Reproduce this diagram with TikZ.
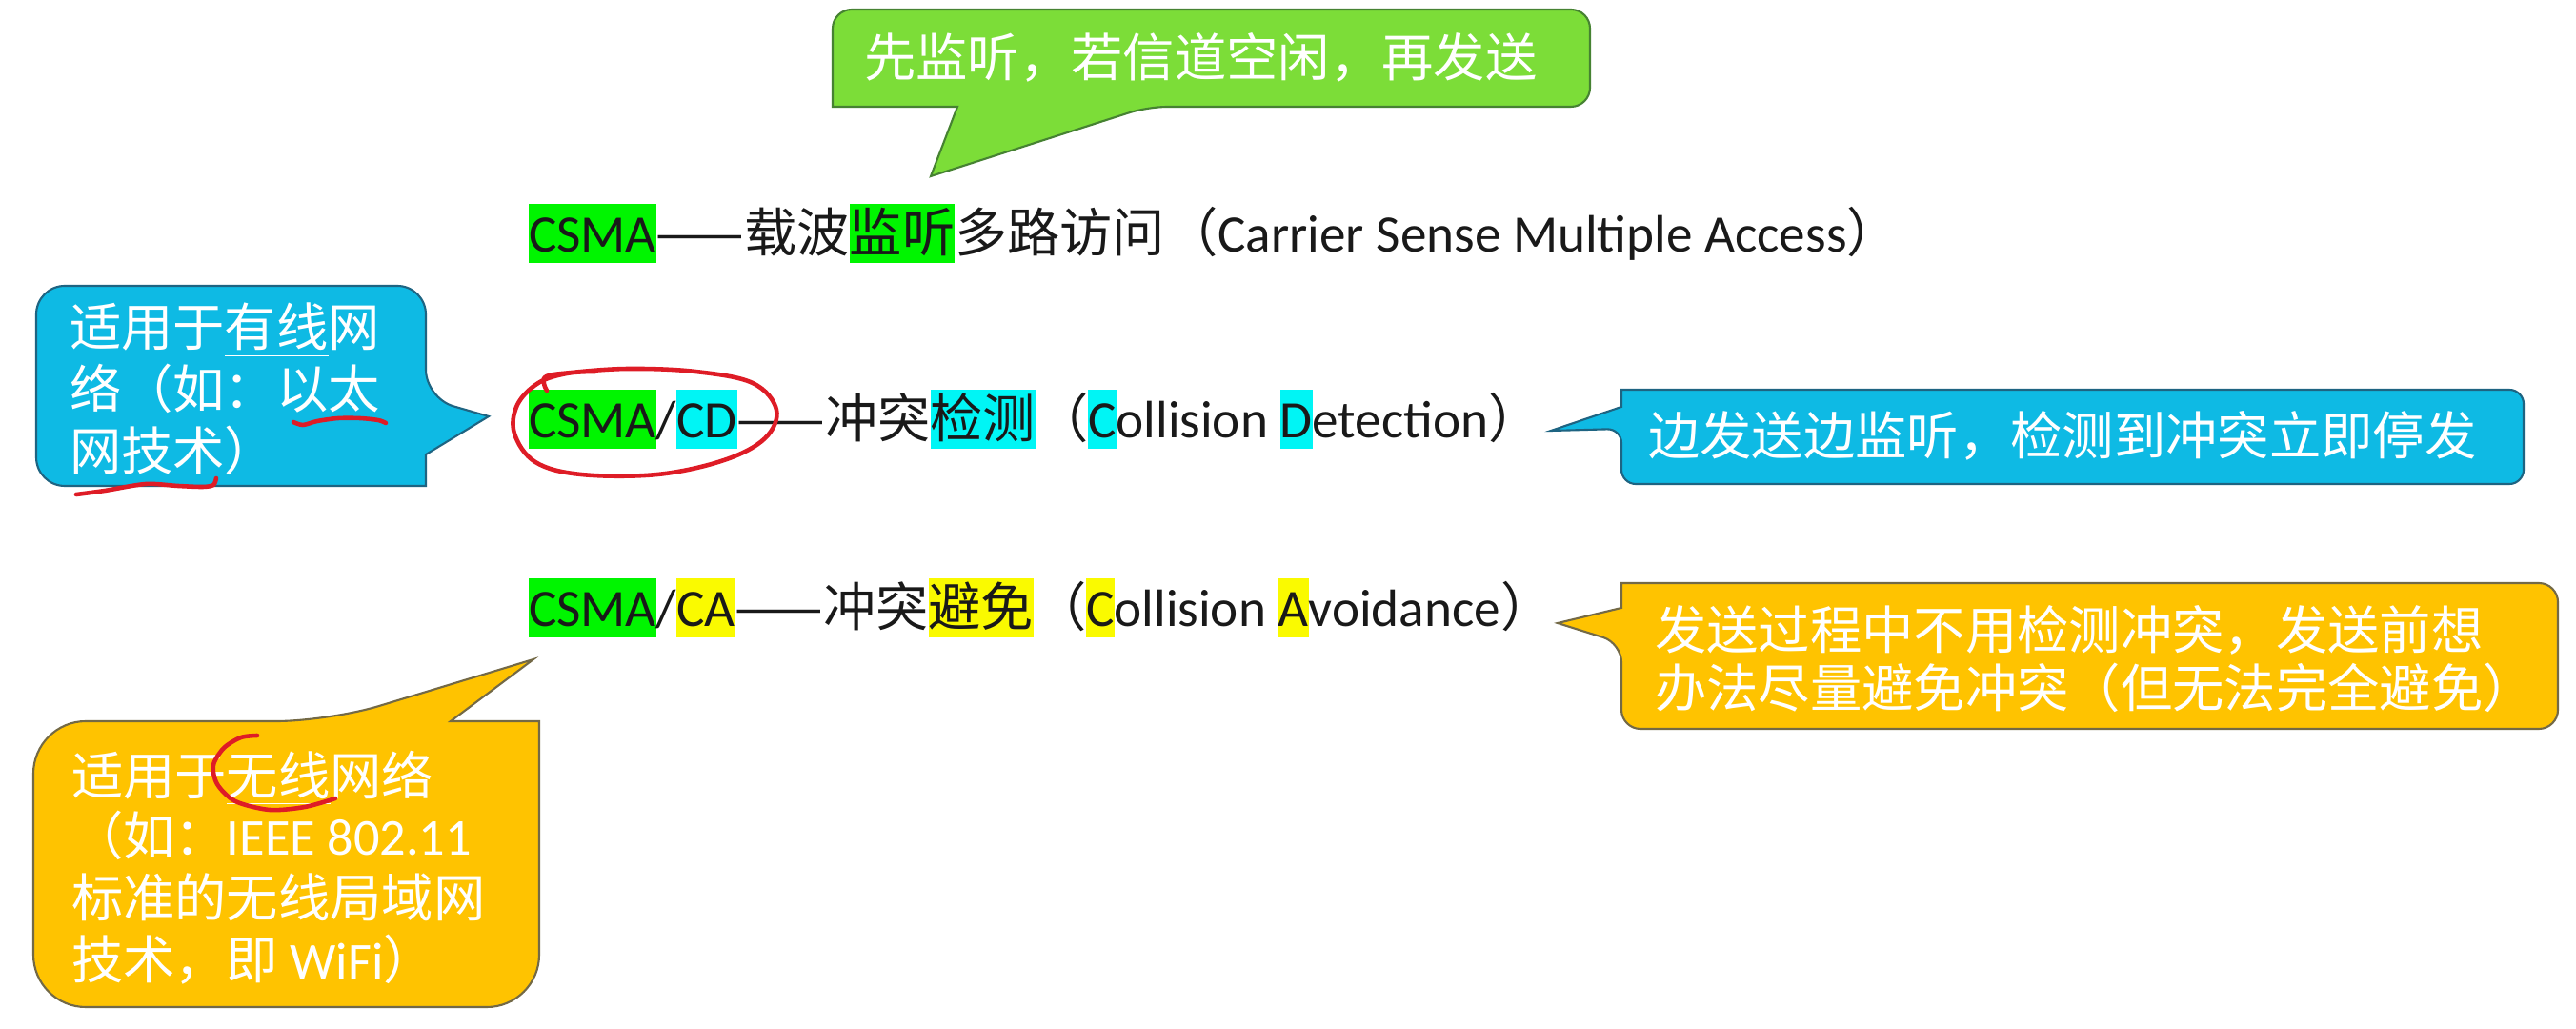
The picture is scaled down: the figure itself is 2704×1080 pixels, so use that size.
\documentclass[tikz,border=0pt]{standalone}
\usepackage{fontspec}
\setmainfont{Carlito}
\newfontfamily\cjkfont{Noto Sans CJK SC}
\newcommand\zh[1]{{\cjkfont #1}}
\definecolor{cgreen}{RGB}{124,221,56}
\definecolor{cgreenb}{RGB}{70,130,50}
\definecolor{cblue}{RGB}{14,186,228}
\definecolor{cblueb}{RGB}{30,100,130}
\definecolor{cyellow}{RGB}{255,195,0}
\definecolor{cyellowb}{RGB}{115,105,70}
\definecolor{hlg}{RGB}{0,245,0}
\definecolor{hlc}{RGB}{0,245,245}
\definecolor{hly}{RGB}{250,250,0}
\definecolor{penred}{RGB}{222,28,38}
\definecolor{ink}{RGB}{25,25,25}
\newcommand\hlbox[2]{{\setlength{\fboxsep}{0pt}\colorbox{#1}{\rule[-0.11cm]{0pt}{0.62cm}#2}}}
\begin{document}
\begin{tikzpicture}[x=0.01cm,y=-0.01cm,
  every node/.style={inner sep=0pt,outer sep=0pt,font=\fontsize{15.45}{18.4}\selectfont},
  callgreen/.style={fill=cgreen,draw=cgreenb,line width=0.6pt},
  callblue/.style={fill=cblue,draw=cblueb,line width=0.6pt},
  callyellow/.style={fill=cyellow,draw=cyellowb,line width=0.6pt},
  calltext/.style={text=white,anchor=base west},
  maintext/.style={text=ink,anchor=base west,font=\fontsize{15.7}{18.4}\selectfont},
  redpen/.style={draw=penred,line width=1.3pt,line cap=round,line join=round}]
\fill[white] (0,0) rectangle (2704,1080);
\useasboundingbox (0,0) rectangle (2704,1080);

% green callout
\path[callgreen] (1300,10) [rounded corners=0.2cm] -- (1669,10) -- (1669,112) -- (1205,112) [sharp corners] -- (977,185) -- (1005,112) -- (874,112) [rounded corners=0.2cm] -- (874,10) -- cycle;
\node[calltext] (g1) at (907,81) {\zh{先监听，若信道空闲，再发送}};

% blue left callout
\path[callblue] (200,300) [rounded corners=0.3cm] -- (447,300) -- (447,418) [sharp corners] -- (513,437) -- (447,477) -- (447,510) [rounded corners=0.3cm] -- (38,510) -- (38,300) -- cycle;
\node[calltext] (bl1) at (73,364) {\zh{适用于\underline{有线}网}};
\node[calltext] (bl2) at (73,429) {\zh{络（如：以太}};
\node[calltext] (bl3) at (73,494) {\zh{网技术）}};

% blue right callout
\path[callblue] (2000,409) [rounded corners=0.15cm] -- (2649,409) -- (2649,508) -- (1702,508) -- (1702,450) [sharp corners] -- (1628,452) -- (1702,427) -- (1702,409) [rounded corners=0.15cm] -- cycle;
\node[calltext] (br1) at (1730,478) {\zh{边发送边监听，检测到冲突立即停发}};

% yellow right callout
\path[callyellow] (2000,612) [rounded corners=0.2cm] -- (2685,612) -- (2685,765) -- (1702,765) -- (1702,675) [sharp corners] -- (1635,654) -- (1702,638) -- (1702,612) [rounded corners=0.2cm] -- cycle;
\node[calltext] (yr1) at (1737,682) {\zh{发送过程中不用检测冲突，发送前想}};
\node[calltext] (yr2) at (1737,743) {\zh{办法尽量避免冲突（但无法完全避免）}};

% yellow left callout
\path[callyellow] (35,900) [rounded corners=0.55cm] -- (35,757) -- (345,757) [sharp corners] -- (560,692) -- (473,757) -- (566,757) [rounded corners=0.55cm] -- (566,1057) -- (35,1057) -- cycle;
\node[calltext] (yl1) at (75,834) {\zh{适用于\underline{无线}网络}};
\node[calltext] (yl2) at (75,897) {\zh{（如：}IEEE 802.11};
\node[calltext] (yl3) at (75,962) {\zh{标准的无线局域网}};
\node[calltext] (yl4) at (75,1027) {\zh{技术，即} WiFi\zh{）}};

% main lines
\node[maintext] (l1) at (555,265) {\hlbox{hlg}{CSMA}\zh{——载波}\hlbox{hlg}{\zh{监听}}\zh{多路访问（}Carrier Sense Multiple Access\zh{）}};
\node[maintext] (l2) at (555,460) {\hlbox{hlg}{CSMA}/\hlbox{hlc}{CD}\zh{——冲突}\hlbox{hlc}{\zh{检测}}\zh{（}\hlbox{hlc}{C}ollision \hlbox{hlc}{D}etection\zh{）}};
\node[maintext] (l3) at (555,658) {\hlbox{hlg}{CSMA}/\hlbox{hly}{CA}\zh{——冲突}\hlbox{hly}{\zh{避免}}\zh{（}\hlbox{hly}{C}ollision \hlbox{hly}{A}voidance\zh{）}};

% red pen annotations
\draw[redpen] plot[smooth,tension=0.6] coordinates {(574,410) (572,396) (600,391) (660,387) (730,390) (790,402) (815,430) (803,460) (760,483) (690,498) (610,498) (562,485) (540,455) (543,425) (565,402) (595,392) (625,390)};
\draw[redpen] plot[smooth] coordinates {(308,443) (318,446) (333,442) (355,439) (378,439) (397,441) (405,444)};
\draw[redpen] plot[smooth] coordinates {(80,519) (110,515) (153,508) (187,510) (213,511) (224,509) (227,502)};
\draw[redpen] plot[smooth] coordinates {(270,772) (253,774) (235,785) (224,803) (228,823) (247,841) (283,850) (320,847) (352,838)};
\end{tikzpicture}
\end{document}
